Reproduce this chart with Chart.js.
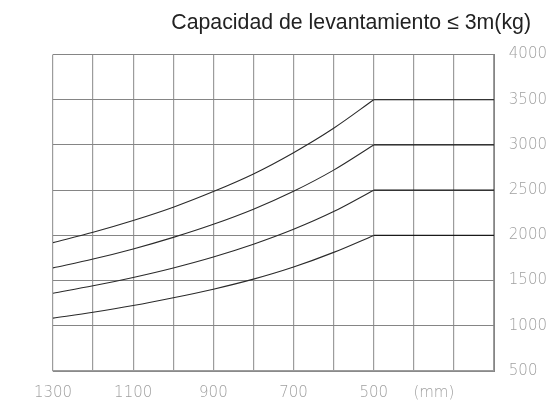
<!DOCTYPE html>
<html lang="es">
<head>
<meta charset="UTF-8">
<title>Capacidad de levantamiento</title>
<script src="https://cdn.jsdelivr.net/npm/chart.js"></script>
<style>
  html, body { margin: 0; padding: 0; background: #fff; }
  .wrap { width: 557px; height: 401px; }
</style>
</head>
<body>
<div class="wrap"><canvas id="grafico"></canvas></div>

<script>
// distancia al centro de carga (mm), de 1300 a 500 en curva
const xCurva = [1300, 1200, 1100, 1000, 900, 800, 700, 600, 500];
// tramo plano desde 500 hasta 200 mm
const xPlano = [500, 200];

// capacidades (kg)
const curva1 = [1920, 2035, 2165, 2312, 2485, 2680, 2915, 3185, 3500];
const curva2 = [1640, 1738, 1850, 1978, 2123, 2290, 2488, 2722, 3000];
const curva3 = [1360, 1442, 1535, 1640, 1761, 1902, 2067, 2263, 2500];
const curva4 = [1085, 1150, 1224, 1310, 1405, 1516, 1650, 1812, 2000];
const series = [curva1, curva2, curva3, curva4];

// ticks
const xGrid = [1300, 1200, 1100, 1000, 900, 800, 700, 600, 500, 400, 300, 200];
const xEtiquetas = [1300, 1100, 900, 700, 500];
const unidadPos = 350;
const unidadTexto = '(mm)';
const yTicks = [500, 1000, 1500, 2000, 2500, 3000, 3500, 4000];

const titulo = 'Capacidad de levantamiento \u2264 3m(kg)';

const gris = '#858585';
const grisV = '#9c9c9c';
const tickFont = { family: 'DejaVu Sans', size: 15, weight: '200' };

const datasets = [];
series.forEach(function (s) {
  datasets.push({
    data: xCurva.map((x, i) => ({ x: x, y: s[i] })),
    borderColor: '#2a2a2a',
    borderWidth: 1.1,
    pointRadius: 0,
    cubicInterpolationMode: 'monotone',
    fill: false
  });
  datasets.push({
    data: xPlano.map(x => ({ x: x, y: s[s.length - 1] })),
    borderColor: '#1a1a1a',
    borderWidth: 1.2,
    pointRadius: 0,
    fill: false
  });
});

const ctx = document.getElementById('grafico');
new Chart(ctx, {
  type: 'line',
  data: { datasets: datasets },
  options: {
    responsive: true,
    maintainAspectRatio: false,
    animation: false,
    layout: { padding: { left: 53, right: 26, bottom: 0 } },
    plugins: {
      legend: { display: false },
      tooltip: { enabled: false },
      title: {
        display: true,
        text: titulo,
        align: 'end',
        color: '#222',
        font: { family: 'Liberation Sans', size: 21.3, weight: 'normal' },
        padding: { top: 10, bottom: 19 }
      }
    },
    scales: {
      x: {
        type: 'linear',
        reverse: true,
        min: 200,
        max: 1300,
        afterBuildTicks: function (scale) {
          scale.ticks = xGrid.concat([unidadPos]).map(v => ({ value: v }));
        },
        afterFit: function (scale) { scale.height = 30; },
        ticks: {
          autoSkip: false,
          maxRotation: 0,
          color: '#a0a0a0',
          font: tickFont,
          padding: 13,
          callback: function (v) {
            if (v === unidadPos) return unidadTexto;
            return xEtiquetas.indexOf(v) >= 0 ? String(v) : '';
          }
        },
        grid: {
          drawTicks: false,
          color: c => (c.tick && c.tick.value === unidadPos) ? 'rgba(0,0,0,0)' : grisV,
          lineWidth: 1.2
        },
        border: { color: grisV, width: 1.2 }
      },
      y: {
        position: 'right',
        min: 500,
        max: 4000,
        afterBuildTicks: function (scale) {
          scale.ticks = yTicks.map(v => ({ value: v }));
        },
        afterFit: function (scale) {
          scale.width = 37;
          scale.paddingTop = 0;
          scale.paddingBottom = 0;
        },
        ticks: {
          mirror: true,
          crossAlign: 'far',
          color: '#a0a0a0',
          font: tickFont,
          padding: 53,
          callback: v => String(v)
        },
        grid: { drawTicks: false, color: gris, lineWidth: 1 },
        border: { color: gris }
      }
    }
  }
});
</script>
</body>
</html>
